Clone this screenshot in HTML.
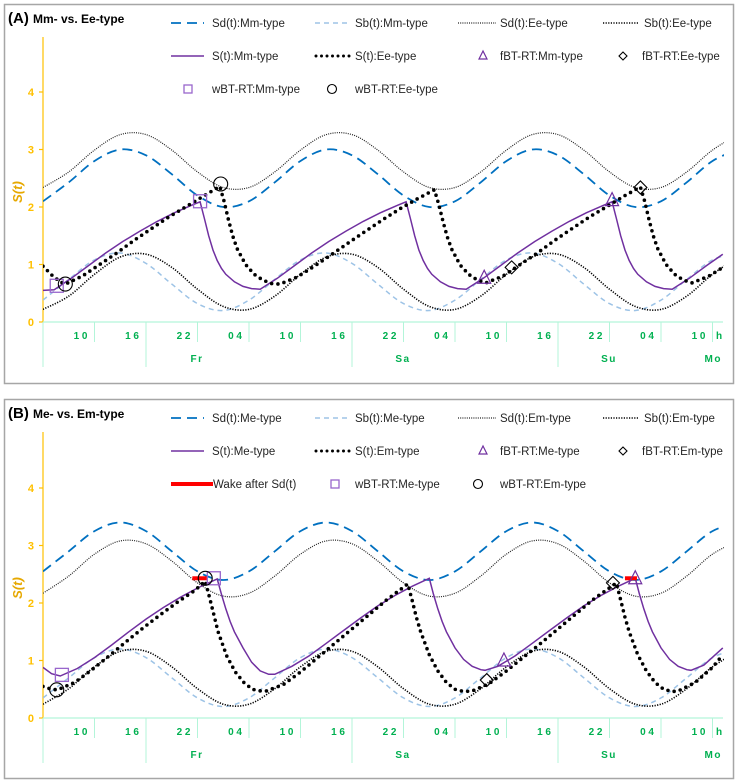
<!DOCTYPE html>
<html><head><meta charset="utf-8"><style>
html,body{margin:0;padding:0;background:#fff;}
svg{display:block;font-family:"Liberation Sans",sans-serif;}
</style></head><body>
<svg id="chart" width="738" height="783" viewBox="0 0 738 783" xmlns="http://www.w3.org/2000/svg"></svg>
<script>
// ---------- data ----------
const hourTicks = ["1 0","1 6","2 2","0 4","1 0","1 6","2 2","0 4","1 0","1 6","2 2","0 4","1 0"];
const dayLabels = ["Fr","Sa","Su"];
const yTicks = [0,1,2,3,4];
const gridT = [0,3,6,9,12,15,18,21,24,27,30,33,36,39,42,45,48,51,54,57,60,63,66,69,72,75,78,81];

// Panel A
const sdMm = [2.10,2.43,2.80,3.00,2.90,2.57,2.20,2.00,2.10,2.43,2.80,3.00,2.90,2.57,2.20,2.00,2.10,2.43,2.80,3.00,2.90,2.57,2.20,2.00,2.10,2.43,2.80,3.00];
const sbMm = [0.38,0.74,1.08,1.20,1.02,0.66,0.32,0.20,0.38,0.74,1.08,1.20,1.02,0.66,0.32,0.20,0.38,0.74,1.08,1.20,1.02,0.66,0.32,0.20,0.38,0.74,1.08,1.20];
const sdEe = [2.34,2.61,2.99,3.26,3.26,2.99,2.61,2.34,2.34,2.61,2.99,3.26,3.26,2.99,2.61,2.34,2.34,2.61,2.99,3.26,3.26,2.99,2.61,2.34,2.34,2.61,2.99,3.26];
const sbEe = [0.22,0.45,0.83,1.13,1.18,0.95,0.57,0.27,0.22,0.45,0.83,1.13,1.18,0.95,0.57,0.27,0.22,0.45,0.83,1.13,1.18,0.95,0.57,0.27,0.22,0.45,0.83,1.13];
const sMmT = [0,1.3,3.3,5.3,7.3,9.3,11.3,13.3,15.3,17.3,18.3,18.8,19.3,19.8,20.3,20.8,21.3,22.3,23.3,24.3,25.3,27.3,29.3,31.3,33.3,35.3,37.3,39.3,41.3,42.3,42.8,43.3,43.8,44.3,44.8,45.3,46.3,47.3,48.3,49.3,51.3,53.3,55.3,57.3,59.3,61.3,63.3,65.3,66.3,66.8,67.3,67.8,68.3,68.8,69.3,70.3,71.3,72.3,73.3,75.3,77.3,79.2];
const sMmV = [0.55,0.56,0.76,0.98,1.2,1.4,1.58,1.75,1.9,2.03,2.09,1.8,1.5,1.25,1.07,0.93,0.83,0.7,0.62,0.58,0.57,0.76,0.98,1.2,1.4,1.58,1.75,1.9,2.03,2.09,1.8,1.5,1.25,1.07,0.93,0.83,0.7,0.62,0.58,0.57,0.76,0.98,1.2,1.4,1.58,1.75,1.9,2.03,2.09,1.8,1.5,1.25,1.07,0.93,0.83,0.7,0.62,0.58,0.57,0.76,0.98,1.18];
const sEeT = [0,1,2,2.6,4.6,6.6,8.6,10.6,12.6,14.6,16.6,18.6,20.6,21.1,21.6,22.1,22.6,23.6,24.6,25.6,26.6,27.6,29.6,31.6,33.6,35.6,37.6,39.6,41.6,43.6,45.6,46.1,46.6,47.1,47.6,48.6,49.6,50.6,51.6,53.6,55.6,57.6,59.6,61.6,63.6,65.6,67.6,69.6,70.1,70.6,71.1,71.6,72.6,73.6,74.6,75.6,77.6,79.2];
const sEeV = [0.97,0.82,0.7,0.66,0.8,1.0,1.2,1.42,1.62,1.82,2.0,2.18,2.36,2.1,1.78,1.5,1.28,1.0,0.83,0.73,0.67,0.66,0.78,0.97,1.17,1.38,1.58,1.78,1.97,2.14,2.3,2.05,1.75,1.48,1.27,0.99,0.83,0.73,0.68,0.8,1.0,1.2,1.42,1.62,1.82,2.0,2.18,2.35,2.1,1.78,1.5,1.28,1.0,0.83,0.73,0.68,0.8,0.95];
const aSquareT = [1.6,18.3]; const aSquareV = [0.63,2.1];
const aCircleT = [2.6,20.7]; const aCircleV = [0.66,2.4];
const aTriT = [51.4,66.3]; const aTriV = [0.77,2.12];
const aDiaT = [54.6,69.6]; const aDiaV = [0.95,2.34];

// Panel B
const sdMe = [2.55,2.90,3.25,3.40,3.25,2.90,2.55,2.40,2.55,2.90,3.25,3.40,3.25,2.90,2.55,2.40,2.55,2.90,3.25,3.40,3.25,2.90,2.55,2.40,2.55,2.90,3.25,3.40];
const sbMe = [0.35,0.70,1.05,1.20,1.05,0.70,0.35,0.20,0.35,0.70,1.05,1.20,1.05,0.70,0.35,0.20,0.35,0.70,1.05,1.20,1.05,0.70,0.35,0.20,0.35,0.70,1.05,1.20];
const sdEm = [2.17,2.47,2.85,3.08,3.03,2.73,2.35,2.12,2.17,2.47,2.85,3.08,3.03,2.73,2.35,2.12,2.17,2.47,2.85,3.08,3.03,2.73,2.35,2.12,2.17,2.47,2.85,3.08];
const sbEm = [0.24,0.51,0.89,1.16,1.16,0.89,0.51,0.24,0.24,0.51,0.89,1.16,1.16,0.89,0.51,0.24,0.24,0.51,0.89,1.16,1.16,0.89,0.51,0.24,0.24,0.51,0.89,1.16];
const sMeT = [0,1,2,4,6,8,10,12,14,16,18,20.3,20.8,21.3,21.8,22.3,23.3,24.3,25.3,26.3,27,29,31,33,35,37,39,41,43,45,45.5,46,46.5,47,48,49,50,51,51.5,53,55,57,59,61,63,65,67,69,69.5,70,70.5,71,72,73,74,75,75.5,77,79.2];
const sMeV = [0.88,0.77,0.73,0.86,1.05,1.27,1.5,1.72,1.92,2.1,2.26,2.42,2.15,1.9,1.68,1.5,1.22,0.97,0.82,0.76,0.76,0.9,1.08,1.3,1.52,1.74,1.95,2.13,2.29,2.43,2.15,1.9,1.68,1.5,1.22,1.02,0.9,0.84,0.83,0.9,1.08,1.3,1.52,1.74,1.95,2.13,2.29,2.43,2.15,1.9,1.68,1.5,1.22,1.02,0.9,0.84,0.83,0.92,1.22];
const sEmT = [0,1,1.7,3.7,5.7,7.7,9.7,11.7,13.7,15.7,17.7,18.9,19.4,19.9,20.4,21.4,22.4,23.4,24.4,25.4,26,28,30,32,34,36,38,40,42.5,43,43.5,44,45,46,47,48,49,50,52,54,56,58,60,62,64,66.8,67.3,67.8,68.3,69.3,70.3,71.3,72.3,73.3,74,76,78,79.2];
const sEmV = [0.55,0.5,0.49,0.62,0.84,1.08,1.33,1.57,1.8,2.02,2.22,2.38,2.1,1.8,1.5,1.08,0.8,0.62,0.5,0.47,0.47,0.58,0.8,1.05,1.3,1.55,1.8,2.05,2.33,2.05,1.75,1.5,1.1,0.82,0.62,0.5,0.46,0.47,0.6,0.82,1.06,1.3,1.55,1.8,2.05,2.35,2.05,1.75,1.5,1.1,0.82,0.62,0.5,0.46,0.47,0.62,0.88,1.1];
const bSquareT = [2.2,19.9]; const bSquareV = [0.75,2.43];
const bCircleT = [1.6,18.9]; const bCircleV = [0.49,2.43];
const bTriT = [53.7,69.0]; const bTriV = [1.0,2.43];
const bDiaT = [51.7,66.4]; const bDiaV = [0.66,2.35];
const bWakeStart = [17.4,67.8]; const bWakeEnd = [19.1,69.2]; const bWakeV = [2.43,2.43];

// ---------- drawing ----------
const NS = "http://www.w3.org/2000/svg";
const svg = document.getElementById("chart");
const X0 = 43, PXH = 51.5/6, XEND = 723, PXU = 57.5;
function mk(tag, attrs, parent){
  const e = document.createElementNS(NS, tag);
  for (const k in attrs) e.setAttribute(k, attrs[k]);
  (parent||svg).appendChild(e);
  return e;
}
function xs(t){ return X0 + t*PXH; }
function smoothPath(pts){
  let d = "M"+pts[0][0].toFixed(1)+","+pts[0][1].toFixed(1);
  for (let i=0;i<pts.length-1;i++){
    const p0=pts[Math.max(0,i-1)], p1=pts[i], p2=pts[i+1], p3=pts[Math.min(pts.length-1,i+2)];
    const c1x=p1[0]+(p2[0]-p0[0])/6, c1y=p1[1]+(p2[1]-p0[1])/6;
    const c2x=p2[0]-(p3[0]-p1[0])/6, c2y=p2[1]-(p3[1]-p1[1])/6;
    d += " C"+c1x.toFixed(1)+","+c1y.toFixed(1)+" "+c2x.toFixed(1)+","+c2y.toFixed(1)+" "+p2[0].toFixed(1)+","+p2[1].toFixed(1);
  }
  return d;
}
function linePath(pts){ return "M"+pts.map(p=>p[0].toFixed(1)+","+p[1].toFixed(1)).join(" L"); }

function drawPanel(P){
  const Y0 = P.y0;
  const ys = v => Y0 - v*PXU;
  const g = mk("g", {});
  
  
  const border = mk("rect", {x:4.5, y:P.top+0.5, width:729, height:379, fill:"none", stroke:"#a6a6a6", "stroke-width":1.5}, g);
  
  
  const title = mk("text", {x:8, y:P.top+19, "font-size":15, "font-weight":"bold", fill:"#000"}, g);
  
  
  title.innerHTML = P.letter + ' <tspan font-size="12">'+P.title+'</tspan>';

  // legend
  const lg = mk("g", {}, g);
  
  
  P.legend.forEach(it=>{
    const e = mk("g", {}, lg);
    
    
    const cy = P.top + it.row*33 + 19;
    if (it.kind==="line"){
      mk("line", Object.assign({x1:it.x, x2:it.x+it.w, y1:cy, y2:cy, fill:"none"}, it.style), e);
    } else {
      drawMarker(e, it.kind, it.x, cy, 4);
    }
    const t = mk("text", {x:it.tx, y:cy+4, "font-size":11.5, fill:"#262626"}, e);
    t.textContent = it.label;
  });

  // y axis
  const ya = mk("g", {}, g);
  
  
  mk("line", {x1:X0, x2:X0, y1:P.top+33, y2:Y0, stroke:"#ffc000", "stroke-width":1.2}, ya);
  yTicks.forEach(v=>{
    mk("line", {x1:X0-4, x2:X0, y1:ys(v), y2:ys(v), stroke:"#ffc000", "stroke-width":1.2}, ya);
    const t = mk("text", {x:34, y:ys(v)+4, "text-anchor":"end", "font-size":11, "font-weight":"bold", fill:"#ffc000"}, ya);
    t.textContent = v;
  });
  const yt = mk("text", {x:0, y:0, transform:"translate(22,"+(Y0-130)+") rotate(-90)", "text-anchor":"middle", "font-size":13, "font-weight":"bold", "font-style":"italic", fill:"#e6a800"}, ya);
  
  
  yt.textContent = "S(t)";

  // x axis
  const xa = mk("g", {}, g);
  
  
  const gc = "#b3f5d9";
  mk("line", {x1:X0, x2:XEND, y1:Y0, y2:Y0, stroke:gc, "stroke-width":1.2}, xa);
  for (let k=0;k<=13;k++){
    const x = X0 + k*51.5;
    mk("line", {x1:x, x2:x, y1:Y0, y2:Y0+20, stroke:gc, "stroke-width":1}, xa);
  }
  mk("line", {x1:X0, x2:X0, y1:Y0+20, y2:Y0+45, stroke:gc, "stroke-width":1}, xa);
  hourTicks.forEach((lab,k)=>{
    const t = mk("text", {x:X0+(k+1)*51.5-7, y:Y0+17, "text-anchor":"end", "font-size":10, "font-weight":"bold", fill:"#00b050"}, xa);
    t.textContent = lab;
  });
  const h = mk("text", {x:XEND-7, y:Y0+17, "font-size":10, "font-weight":"bold", fill:"#00b050"}, xa);
  h.textContent = "h";
  dayLabels.forEach((lab,k)=>{
    const x = X0 + 2*51.5 + k*206;
    mk("line", {x1:x, x2:x, y1:Y0+20, y2:Y0+45, stroke:gc, "stroke-width":1}, xa);
    const t = mk("text", {x:x+51, y:Y0+40, "text-anchor":"middle", "font-size":10, "font-weight":"bold", "letter-spacing":"1.5", fill:"#00b050"}, xa);
    t.textContent = lab;
  });
  const mo = mk("text", {x:XEND-1, y:Y0+40, "text-anchor":"end", "font-size":10, "font-weight":"bold", "letter-spacing":"1.5", fill:"#00b050"}, xa);
  mo.textContent = "Mo";

  // clip
  const cp = mk("clipPath", {id:"clip"+P.key}, g);
  mk("rect", {x:X0, y:P.top+20, width:XEND-X0+1, height:Y0-P.top-19}, cp);
  const plot = mk("g", {"clip-path":"url(#clip"+P.key+")"}, g);
  
  

  P.periodic.forEach(s=>{
    const pts = gridT.map((t,i)=>[xs(t), ys(s.vals[i])]);
    const p = mk("path", Object.assign({d:smoothPath(pts), fill:"none"}, s.style), plot);
    
    
  });
  P.sCurves.forEach(s=>{
    const pts = s.t.map((t,i)=>[xs(t), ys(s.v[i])]);
    const p = mk("path", Object.assign({d:linePath(pts), fill:"none"}, s.style), plot);
    
    
  });
  if (P.wake){
    P.wake.s.forEach((t,i)=>{
      const l = mk("line", {x1:xs(t), x2:xs(P.wake.e[i]), y1:ys(P.wake.v[i]), y2:ys(P.wake.v[i]), stroke:"#ff0000", "stroke-width":4}, plot);
      
      
    });
  }
  P.markers.forEach(m=>{
    m.t.forEach((t,i)=>{
      const mg = mk("g", {}, plot);
      
      
      drawMarker(mg, m.kind, xs(t), ys(m.v[i]), 6.5);
    });
  });
}
function drawMarker(parent, kind, x, y, r){
  if (kind==="square") mk("rect", {x:x-r, y:y-r, width:2*r, height:2*r, fill:"none", stroke:"#9966cc", "stroke-width":1.3}, parent);
  else if (kind==="circle") mk("circle", {cx:x, cy:y, r:r+0.5, fill:"none", stroke:"#000", "stroke-width":1.1}, parent);
  else if (kind==="tri") mk("polygon", {points:(x)+","+(y-r-1)+" "+(x-r)+","+(y+r-1)+" "+(x+r)+","+(y+r-1), fill:"none", stroke:"#7030a0", "stroke-width":1.2}, parent);
  else if (kind==="dia") mk("polygon", {points:x+","+(y-r)+" "+(x+r)+","+y+" "+x+","+(y+r)+" "+(x-r)+","+y, fill:"none", stroke:"#000", "stroke-width":1.1}, parent);
}

const stBlueDash = {stroke:"#0070c0", "stroke-width":1.8, "stroke-dasharray":"10 6"};
const stLightDash = {stroke:"#9dc3e6", "stroke-width":1.5, "stroke-dasharray":"5 4"};
const stThinDot = {stroke:"#222", "stroke-width":1.2, "stroke-dasharray":"1 1.2"};
const stDot = {stroke:"#000", "stroke-width":1.6, "stroke-dasharray":"1.2 1.4"};
const stPurple = {stroke:"#7030a0", "stroke-width":1.5};
const stNavy = {stroke:"#7030a0", "stroke-width":1.5};
const stBigDot = {stroke:"#000", "stroke-width":3.6, "stroke-dasharray":"0 6.3", "stroke-linecap":"round"};

function legendItems(n){
  return [
    {row:0, kind:"line", x:171, w:33, tx:212, label:"Sd(t):"+n[0]+"-type", style:stBlueDash},
    {row:0, kind:"line", x:315, w:34, tx:355, label:"Sb(t):"+n[0]+"-type", style:stLightDash},
    {row:0, kind:"line", x:458, w:38, tx:500, label:"Sd(t):"+n[1]+"-type", style:stThinDot},
    {row:0, kind:"line", x:603, w:36, tx:644, label:"Sb(t):"+n[1]+"-type", style:stDot},
    {row:1, kind:"line", x:171, w:33, tx:212, label:"S(t):"+n[0]+"-type", style:stPurple},
    {row:1, kind:"line", x:316, w:35, tx:355, label:"S(t):"+n[1]+"-type", style:{stroke:"#000","stroke-width":3,"stroke-dasharray":"0 5.5","stroke-linecap":"round"}},
    {row:1, kind:"tri", x:483, tx:500, label:"fBT-RT:"+n[0]+"-type"},
    {row:1, kind:"dia", x:623, tx:642, label:"fBT-RT:"+n[1]+"-type"}
  ];
}
const legA = legendItems(["Mm","Ee"]).concat([
  {row:2, kind:"square", x:188, tx:212, label:"wBT-RT:Mm-type"},
  {row:2, kind:"circle", x:332, tx:355, label:"wBT-RT:Ee-type"}
]);
const legB = legendItems(["Me","Em"]).concat([
  {row:2, kind:"line", x:171, w:42, tx:213, label:"Wake after Sd(t)", style:{stroke:"#ff0000","stroke-width":4}},
  {row:2, kind:"square", x:335, tx:355, label:"wBT-RT:Me-type"},
  {row:2, kind:"circle", x:478, tx:500, label:"wBT-RT:Em-type"}
]);

drawPanel({key:"a", letter:"(A)", title:"Mm- vs. Ee-type", top:4, y0:322, legend:legA,
  periodic:[
    {name:"sd-mm-line", vals:sdMm, style:stBlueDash},
    {name:"sb-mm-line", vals:sbMm, style:stLightDash},
    {name:"sd-ee-line", vals:sdEe, style:stThinDot},
    {name:"sb-ee-line", vals:sbEe, style:stDot}],
  sCurves:[
    {name:"s-mm-line", t:sMmT, v:sMmV, style:stPurple},
    {name:"s-ee-line", t:sEeT, v:sEeV, style:stBigDot}],
  markers:[
    {name:"wbt-rt-mm-marker", kind:"square", t:aSquareT, v:aSquareV},
    {name:"wbt-rt-ee-marker", kind:"circle", t:aCircleT, v:aCircleV},
    {name:"fbt-rt-mm-marker", kind:"tri", t:aTriT, v:aTriV},
    {name:"fbt-rt-ee-marker", kind:"dia", t:aDiaT, v:aDiaV}]
});
drawPanel({key:"b", letter:"(B)", title:"Me- vs. Em-type", top:399, y0:718, legend:legB,
  periodic:[
    {name:"sd-me-line", vals:sdMe, style:stBlueDash},
    {name:"sb-me-line", vals:sbMe, style:stLightDash},
    {name:"sd-em-line", vals:sdEm, style:stThinDot},
    {name:"sb-em-line", vals:sbEm, style:stDot}],
  sCurves:[
    {name:"s-me-line", t:sMeT, v:sMeV, style:stNavy},
    {name:"s-em-line", t:sEmT, v:sEmV, style:stBigDot}],
  wake:{s:bWakeStart, e:bWakeEnd, v:bWakeV},
  markers:[
    {name:"wbt-rt-me-marker", kind:"square", t:bSquareT, v:bSquareV},
    {name:"wbt-rt-em-marker", kind:"circle", t:bCircleT, v:bCircleV},
    {name:"fbt-rt-me-marker", kind:"tri", t:bTriT, v:bTriV},
    {name:"fbt-rt-em-marker", kind:"dia", t:bDiaT, v:bDiaV}]
});
</script>
</body></html>
